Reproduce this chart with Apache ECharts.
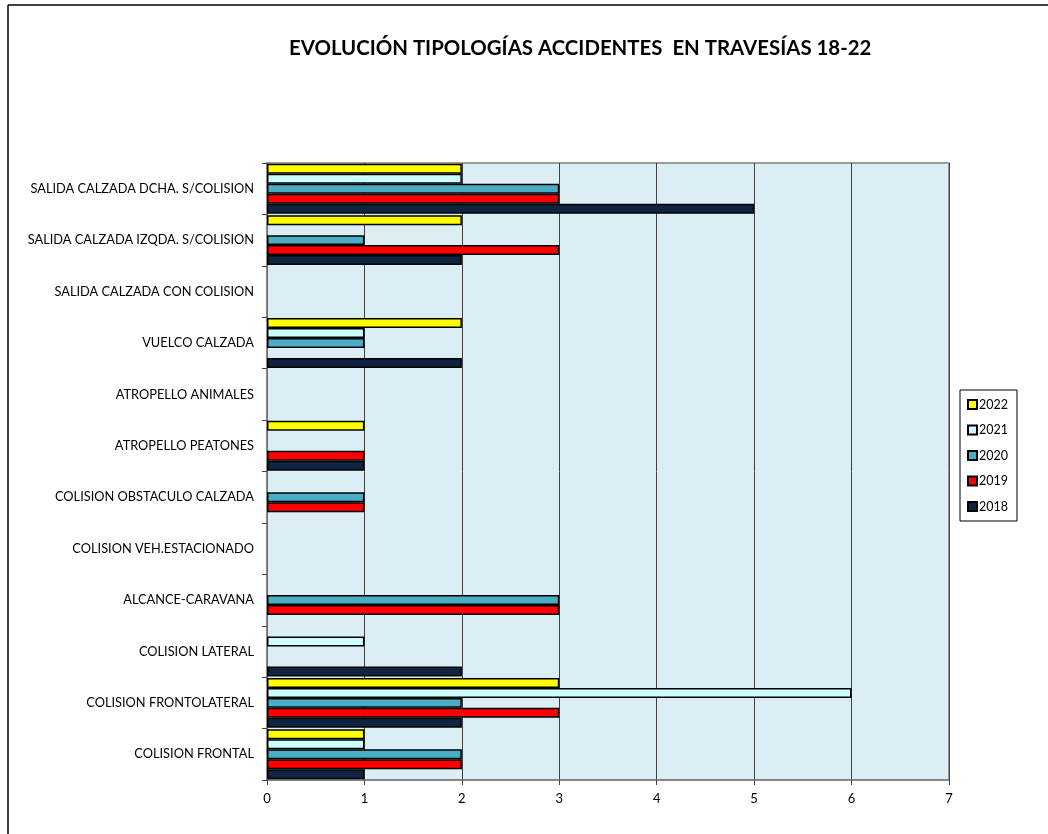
<!DOCTYPE html>
<html>
<head>
<meta charset="utf-8">
<script src="https://cdn.jsdelivr.net/npm/echarts@6/dist/echarts.min.js"></script>
<style>
html,body{margin:0;padding:0;background:#fff;}
#chart{width:1048px;height:834px;}
</style>
</head>
<body>
<div id="chart"></div>
<script>
// Categories, bottom to top as drawn on the vertical axis
const categories = [
  'COLISION FRONTAL',
  'COLISION FRONTOLATERAL',
  'COLISION LATERAL',
  'ALCANCE-CARAVANA',
  'COLISION VEH.ESTACIONADO',
  'COLISION OBSTACULO CALZADA',
  'ATROPELLO PEATONES',
  'ATROPELLO ANIMALES',
  'VUELCO CALZADA',
  'SALIDA CALZADA CON COLISION',
  'SALIDA CALZADA IZQDA. S/COLISION',
  'SALIDA CALZADA DCHA. S/COLISION'
];
const years = ['2022', '2021', '2020', '2019', '2018'];
const v2022 = [1, 3, 0, 0, 0, 0, 1, 0, 2, 0, 2, 2];
const v2021 = [1, 6, 1, 0, 0, 0, 0, 0, 1, 0, 0, 2];
const v2020 = [2, 2, 0, 3, 0, 1, 0, 0, 1, 0, 1, 3];
const v2019 = [2, 3, 0, 3, 0, 1, 1, 0, 0, 0, 3, 3];
const v2018 = [1, 2, 2, 0, 0, 0, 1, 0, 2, 0, 2, 5];
const xTicks = [0, 1, 2, 3, 4, 5, 6, 7];
const titleText = 'EVOLUCIÓN TIPOLOGÍAS ACCIDENTES  EN TRAVESÍAS 18-22';

const seriesValues = [v2022, v2021, v2020, v2019, v2018];
const colors = ['#ffff00', '#ccffff', '#4bacc6', '#ff0000', '#0f2440'];

const chart = echarts.init(document.getElementById('chart'), null, {renderer: 'canvas'});
const font = 'Lato, "Open Sans", sans-serif';

const series = years.map((y, i) => ({
  name: y,
  type: 'bar',
  data: seriesValues[i].map(v => v === 0 ? '-' : v),
  barGap: '0%',
  barCategoryGap: '3%',
  itemStyle: {color: colors[i], borderColor: '#000', borderWidth: 1.5},
  emphasis: {disabled: true},
  animation: false
}));

chart.setOption({
  backgroundColor: '#fff',
  animation: false,
  title: {
    text: titleText,
    left: 284,
    top: 33,
    textStyle: {fontFamily: font, fontSize: 20.4, fontWeight: 'bold', color: '#000'}
  },
  legend: {
    orient: 'vertical',
    left: 960,
    top: 390,
    data: years,
    itemWidth: 9,
    itemHeight: 9,
    itemGap: 12.5,
    padding: [8, 9, 8, 7],
    borderColor: '#000',
    borderWidth: 1,
    icon: 'rect',
    textStyle: {fontFamily: font, fontSize: 12.5, color: '#000', padding: [0, 0, 0, -3]}
  },
  grid: {
    left: 267, right: 99, top: 163, bottom: 54,
    show: true,
    backgroundColor: '#dbeef3',
    borderColor: '#808080',
    borderWidth: 1.5,
    containLabel: false
  },
  xAxis: {
    type: 'value',
    min: 0, max: 7, interval: 1,
    axisLine: {show: true, lineStyle: {color: '#808080', width: 1.5}},
    axisTick: {show: true, length: 5, lineStyle: {color: '#404040'}},
    axisLabel: {fontFamily: font, fontSize: 13, color: '#000', margin: 12,
      formatter: v => xTicks.includes(v) ? String(v) : ''},
    splitLine: {show: true, lineStyle: {color: '#404040', width: 1}}
  },
  yAxis: {
    type: 'category',
    data: categories,
    axisLine: {show: true, lineStyle: {color: '#808080', width: 1.5}},
    axisTick: {show: true, length: 5, inside: false, lineStyle: {color: '#404040'}},
    axisLabel: {fontFamily: font, fontSize: 12.8, color: '#000', margin: 13},
    splitLine: {show: false}
  },
  graphic: [
    {type: 'line', shape: {x1: 8, y1: 5, x2: 8, y2: 834}, style: {stroke: '#000', lineWidth: 1.5}},
    {type: 'line', shape: {x1: 8, y1: 5, x2: 1048, y2: 5}, style: {stroke: '#000', lineWidth: 1.5}}
  ],
  series: series
});
</script>
</body>
</html>
